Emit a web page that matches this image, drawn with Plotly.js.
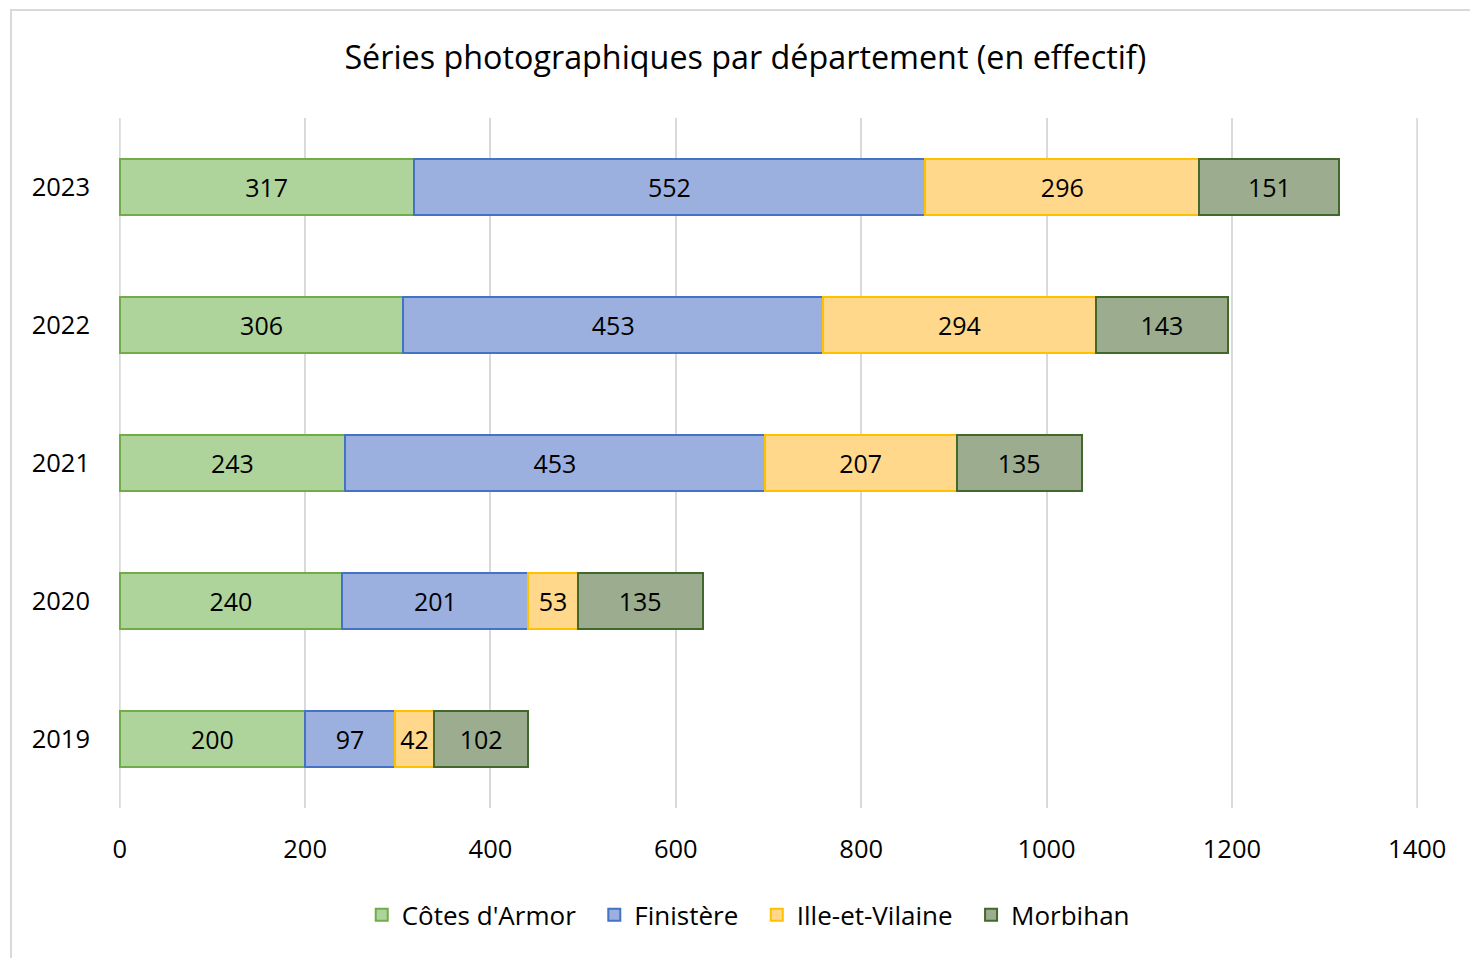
<!DOCTYPE html>
<html><head><meta charset="utf-8">
<script src="https://cdn.plot.ly/plotly-3.0.1.min.js"></script>
<style>
html,body{margin:0;padding:0;background:#fff;overflow:hidden;}
#chart{width:1470px;height:958px;position:absolute;left:0;top:0;}
#frame{position:absolute;left:10px;top:9px;width:1500px;height:1000px;border:2px solid #d9d9d9;pointer-events:none;}
</style></head>
<body>
<div id="chart"></div>
<div id="frame"></div>
<script>
const years = ['2019','2020','2021','2022','2023'];
const cotesArmor = [200, 240, 243, 306, 317];
const finistere = [97, 201, 453, 453, 552];
const illeEtVilaine = [42, 53, 207, 294, 296];
const morbihan = [102, 135, 135, 143, 151];
const seriesNames = ["Côtes d'Armor", 'Finistère', 'Ille-et-Vilaine', 'Morbihan'];
const xTicks = [0, 200, 400, 600, 800, 1000, 1200, 1400];

const fills = ['#afd49b', '#9cb0df', '#ffd88c', '#9bac8f'];
const borders = ['#70ad47', '#4472c4', '#ffc000', '#43682b'];
const values = [cotesArmor, finistere, illeEtVilaine, morbihan];
const FONT = '"Open Sans", sans-serif';

const traces = values.map((v, i) => ({
  type: 'bar', orientation: 'h',
  name: seriesNames[i] + (i < values.length - 1 ? '\u00a0\u00a0' : ''),
  y: years, x: v,
  width: 0.4,
  marker: {color: fills[i], line: {color: borders[i], width: 2}},
  text: v.map(String), texttemplate: '%{x}',
  textposition: 'inside', insidetextanchor: 'middle', textangle: 0,
  constraintext: 'none',
  textfont: {family: FONT, size: 25, color: '#000'},
  hoverinfo: 'x+name'
}));

// gridlines at the range edges (plotly omits them at the plot border)
const edgeTicks = [xTicks[0], xTicks[xTicks.length - 1]];
const shapes = edgeTicks.map(t => ({
  type: 'line', xref: 'x', yref: 'paper', x0: t, x1: t, y0: 0, y1: 1,
  line: {color: '#d9d9d9', width: 2}, layer: 'below'
}));

const layout = {
  width: 1470, height: 958,
  paper_bgcolor: '#fff', plot_bgcolor: '#fff',
  barmode: 'stack',
  margin: {l: 119, r: 52, t: 118, b: 150},
  shapes: shapes,
  title: {text: 'Séries photographiques par département (en effectif)',
    font: {family: FONT, size: 32.3, color: '#000'},
    x: 0.507, xref: 'container', xanchor: 'center', y: 0.94, yref: 'container', yanchor: 'middle'},
  xaxis: {range: [-0.8, 1400.8], tickvals: xTicks, ticktext: xTicks.map(String),
    showgrid: true, gridcolor: '#d9d9d9', gridwidth: 2, zeroline: false,
    showline: false, ticks: '', ticklabelstandoff: 23,
    tickfont: {family: FONT, size: 25.5, color: '#000'}},
  yaxis: {type: 'category', categoryorder: 'array', categoryarray: years,
    range: [-0.5, 4.5], showgrid: false, zeroline: false, showline: false, ticks: '',
    ticklabelstandoff: 28,
    tickfont: {family: FONT, size: 25.5, color: '#000'}},
  showlegend: true,
  legend: {orientation: 'h', x: 0.509, xref: 'container', xanchor: 'center',
    y: 0.045, yref: 'container', yanchor: 'middle', traceorder: 'normal',
    font: {family: FONT, size: 26, color: '#000'}, itemwidth: 30},
  font: {family: FONT}
};

Plotly.newPlot('chart', traces, layout, {displayModeBar: false, staticPlot: true});
</script>
</body></html>
